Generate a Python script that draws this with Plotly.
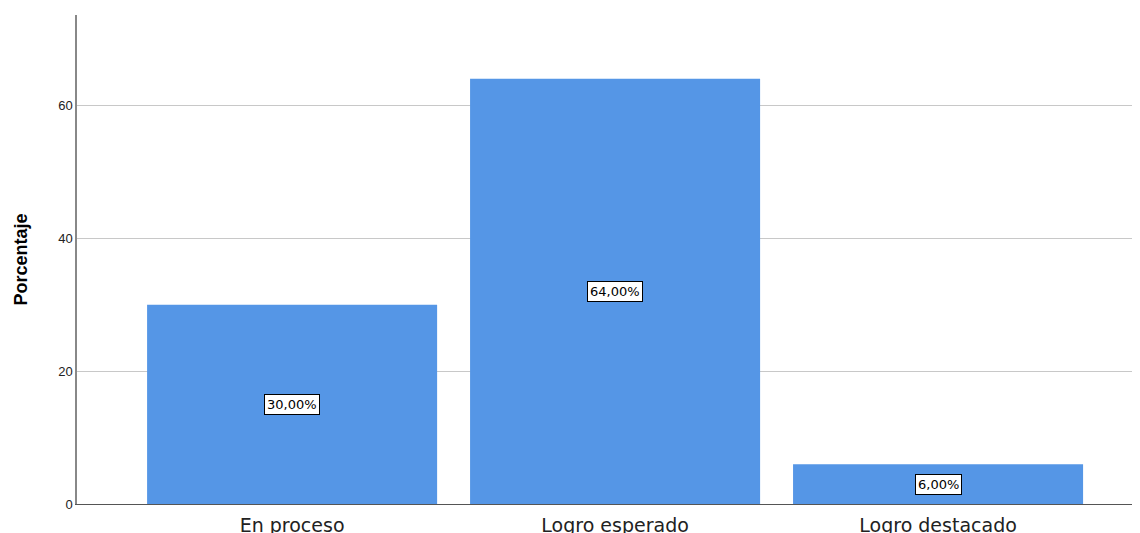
import plotly.graph_objects as go

categories = ["En proceso", "Logro esperado", "Logro destacado"]
values = [30.0, 64.0, 6.0]
labels = ["30,00%", "64,00%", "6,00%"]
tick_vals = [0, 20, 40, 60]

xs = list(range(len(categories)))

fig = go.Figure()
fig.add_trace(go.Bar(
    x=xs, y=values, width=0.898,
    marker=dict(color="#5596E6", line=dict(width=0)),
    hoverinfo="skip",
))

for x, v, lab in zip(xs, values, labels):
    fig.add_annotation(
        x=x, y=v / 2, text=lab, showarrow=False,
        font=dict(family="DejaVu Sans, Arial", size=13, color="black"),
        bgcolor="white", bordercolor="black", borderwidth=1, borderpad=2,
    )

fig.update_layout(
    width=1140, height=533,
    margin=dict(l=69, r=0, t=7, b=37),
    paper_bgcolor="white", plot_bgcolor="white",
    showlegend=False,
    font=dict(family="Liberation Sans, Arial", color="black"),
    xaxis=dict(
        range=[-0.666, 2.65],
        tickmode="array", tickvals=xs, ticktext=categories,
        tickfont=dict(family="DejaVu Sans, Arial", size=19, color="#222"),
        ticklabelstandoff=4,
        showgrid=False, zeroline=False,
        showline=True, linecolor="#555", linewidth=1,
        ticks="", ticklen=0,
    ),
    yaxis=dict(
        range=[0, 73.6],
        tickmode="array", tickvals=tick_vals,
        tickfont=dict(size=13, color="#222"),
        showgrid=True, gridcolor="#C8C8C8", gridwidth=1,
        zeroline=False,
        showline=True, linecolor="#888", linewidth=1.5,
        ticks="", ticklen=0,
        title=dict(text="<b>Porcentaje</b>", font=dict(size=18, color="black"), standoff=26),
    ),
)

fig.write_html("out.html")
